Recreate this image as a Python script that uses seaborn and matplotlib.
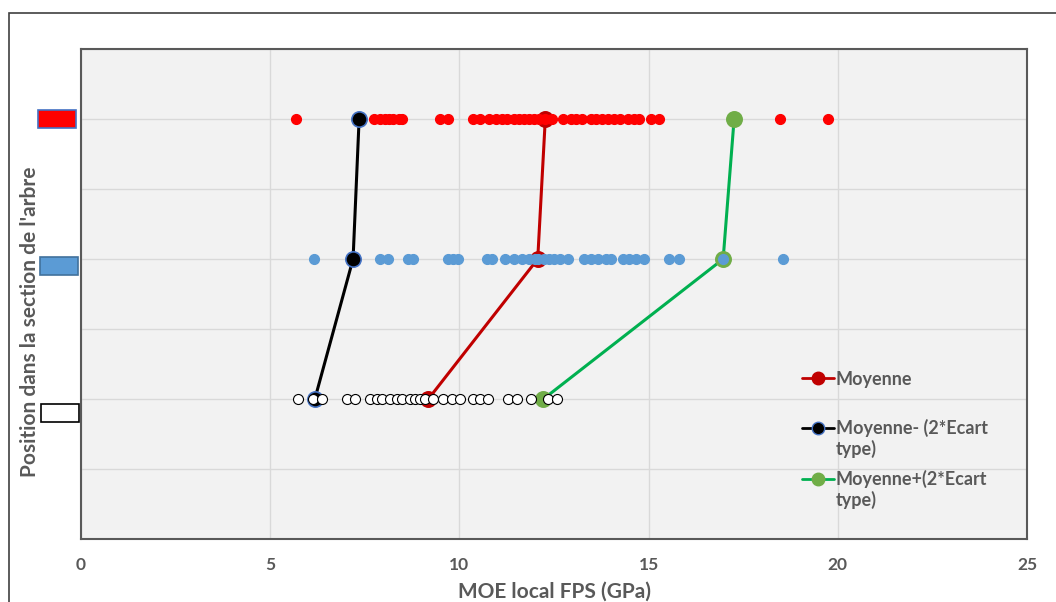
import numpy as np
import pandas as pd
import seaborn as sns
import matplotlib
matplotlib.use("Agg")
import matplotlib.pyplot as plt
from matplotlib.lines import Line2D
from matplotlib.patches import Rectangle
import matplotlib.transforms as mtransforms

# ---------------- data ----------------
row_positions = [6, 4, 2]          # top (red), middle (blue), bottom (white)
red_vals = [5.69, 7.74, 7.90, 8.03, 8.15, 8.25, 8.40, 8.48, 9.49, 9.70, 10.37, 10.55,
            10.77, 10.98, 11.13, 11.26, 11.45, 11.58, 11.70, 11.85, 11.96, 12.10, 12.27,
            12.45, 12.75, 12.95, 13.08, 13.25, 13.47, 13.62, 13.78, 13.92, 14.08, 14.25,
            14.45, 14.62, 14.74, 15.06, 15.27, 18.48, 19.75]
blue_vals = [6.15, 7.90, 8.12, 8.65, 8.77, 9.70, 9.84, 9.97, 10.73, 10.87, 11.21, 11.43,
             11.66, 11.83, 12.00, 12.07, 12.23, 12.38, 12.49, 12.67, 12.86, 13.28, 13.47,
             13.65, 13.87, 14.00, 14.32, 14.48, 14.66, 14.87, 15.54, 15.80, 16.97, 18.56]
white_vals = [5.73, 6.13, 6.36, 7.02, 7.24, 7.64, 7.82, 7.95, 8.17, 8.35, 8.48, 8.70,
              8.83, 8.96, 9.10, 9.31, 9.57, 9.81, 10.02, 10.37, 10.55, 10.76, 11.29,
              11.53, 11.88, 12.33, 12.59]

line_y = [2, 4, 6]
moyenne = [9.18, 12.07, 12.27]
moyenne_minus = [6.18, 7.19, 7.35]
moyenne_plus = [12.22, 16.97, 17.26]

legend_labels = ["Moyenne", "Moyenne- (2*Ecart\ntype)", "Moyenne+(2*Ecart\ntype)"]
xticks = [0, 5, 10, 15, 20, 25]
xlabel = "MOE local FPS (GPa)"
ylabel = "Position dans la section de l'arbre"

# ---------------- style ----------------
sns.set_theme(style="white")
plt.rcParams['font.family'] = ['Lato', 'DejaVu Sans']
gray_txt = "#595959"

fig = plt.figure(figsize=(10.56, 6.02), dpi=100)
W, H = 1056, 602
ax = fig.add_axes([81 / W, 1 - 539 / H, (1027 - 81) / W, (539 - 49) / H])
ax.set_facecolor("#F2F2F2")

# lines (means)
lines_df = pd.DataFrame({
    "x": moyenne + moyenne_minus + moyenne_plus,
    "y": line_y * 3,
    "serie": ["m"] * 3 + ["minus"] * 3 + ["plus"] * 3,
})
line_styles = {
    "m": dict(color="#C00000", mfc="#C00000", mec="#C00000"),
    "minus": dict(color="#000000", mfc="#000000", mec="#4472C4"),
    "plus": dict(color="#00B050", mfc="#70AD47", mec="#70AD47"),
}
for key, st in line_styles.items():
    sub = lines_df[lines_df.serie == key]
    sns.lineplot(data=sub, x="x", y="y", sort=False, ax=ax, color=st["color"],
                 linewidth=2.2, marker="o", markersize=11,
                 markerfacecolor=st["mfc"], markeredgecolor=st["mec"],
                 markeredgewidth=1.2, zorder=3, legend=False)

# scatter rows
rows = [(red_vals, row_positions[0], "#FF0000", "#FF0000"),
        (blue_vals, row_positions[1], "#5B9BD5", "#5B9BD5"),
        (white_vals, row_positions[2], "#FFFFFF", "#000000")]
for vals, ypos, fc, ec in rows:
    df = pd.DataFrame({"x": vals, "y": [ypos] * len(vals)})
    sns.scatterplot(data=df, x="x", y="y", ax=ax, s=52, color=fc, edgecolor=ec,
                    linewidth=0.8, zorder=4, legend=False)

ax.set_xlim(0, 25)
ax.set_ylim(0, 7)
ax.set_xticks(xticks)
ax.set_xticklabels([str(t) for t in xticks], fontsize=12.5, fontweight="bold", color=gray_txt)
ax.set_yticks(range(0, 8))
ax.set_yticklabels([])
ax.tick_params(axis="both", length=0, pad=13)
ax.grid(True, color="#D9D9D9", linewidth=1)
ax.set_axisbelow(True)
for sp in ax.spines.values():
    sp.set_visible(True)
    sp.set_color("#595959")
    sp.set_linewidth(1.5)
ax.set_xlabel(xlabel, fontsize=15, fontweight="bold", color=gray_txt, labelpad=6)
ax.set_ylabel("")
fig.text(30 / W, 1 - 322 / H, ylabel, rotation=90, ha="center", va="center",
         fontsize=15, fontweight="bold", color=gray_txt)

# colored rectangles acting as y tick labels
trans = mtransforms.blended_transform_factory(ax.transAxes, ax.transData)
rect_specs = [(row_positions[0] - 0.0, "#FF0000", "#4472C4"),
              (row_positions[1] - 0.10, "#5B9BD5", "#41719C"),
              (row_positions[2] - 0.20, "#FFFFFF", "#000000")]
for i, (yc, fc, ec) in enumerate(rect_specs):
    x0 = (38 + i * 1.5 - 81) / 946
    ax.add_patch(Rectangle((x0, yc - 0.135), 38 / 946, 0.27, transform=trans,
                           facecolor=fc, edgecolor=ec, linewidth=1.2, clip_on=False))

# legend: one entry per block, handle beside the first text line, as in the reference
legend_centers = [379, 428, 479]   # pixel y-centre of each entry's first line
line_gap = 21                      # pixel distance between wrapped lines
fs = 13
for k, lab, yc in zip(["m", "minus", "plus"], legend_labels, legend_centers):
    first, *rest = lab.split("\n")
    h = Line2D([], [], color=line_styles[k]["color"], linewidth=2, marker="o",
               markersize=9, markerfacecolor=line_styles[k]["mfc"],
               markeredgecolor=line_styles[k]["mec"])
    leg = fig.legend([h], [first], loc="center left",
                     bbox_to_anchor=(802 / W, 1 - yc / H), frameon=False,
                     fontsize=fs, handlelength=1.75, handletextpad=0.12,
                     borderpad=0, borderaxespad=0)
    for t in leg.get_texts():
        t.set_color(gray_txt)
        t.set_fontweight("bold")
    for j, extra in enumerate(rest, start=1):
        fig.text(836 / W, 1 - (yc + j * line_gap) / H, extra, ha="left", va="center",
                 fontsize=fs, fontweight="bold", color=gray_txt)

# figure border (chart area frame)
fig.patches.append(Rectangle((9 / W, -0.2), 1.2, 1.2 - 13 / H, transform=fig.transFigure,
                             fill=False, edgecolor="#404040", linewidth=1.2))

fig.savefig("out.png", dpi=100)
